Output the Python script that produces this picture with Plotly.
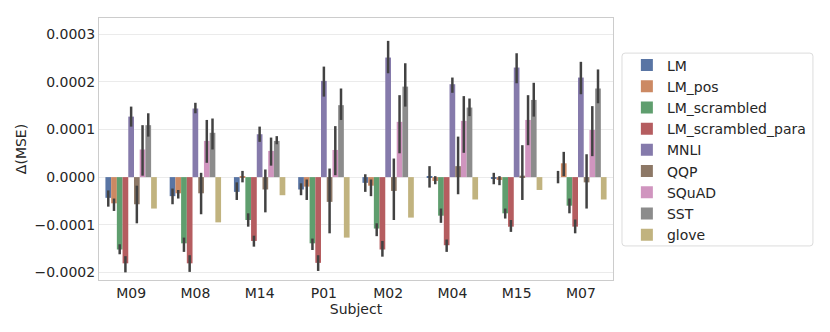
import plotly.graph_objects as go

subjects = ["M09", "M08", "M14", "P01", "M02", "M04", "M15", "M07"]
models = ["LM", "LM_pos", "LM_scrambled", "LM_scrambled_para", "MNLI",
          "QQP", "SQuAD", "SST", "glove"]
colors = ["#5975a4", "#cc8963", "#5f9e6e", "#b55d60", "#857aab",
          "#8d7866", "#d095bf", "#8c8c8c", "#c1b37f"]

# mean delta MSE (x 1e-4) per model, one value per subject
means = {
    "LM": [-0.435, -0.40, -0.31, -0.26, -0.12, 0.005, -0.02, 0.0],
    "LM_pos": [-0.55, -0.34, 0.01, -0.20, -0.18, -0.08, -0.06, 0.29],
    "LM_scrambled": [-1.52, -1.39, -0.90, -1.39, -1.08, -0.81, -0.76, -0.60],
    "LM_scrambled_para": [-1.81, -1.81, -1.34, -1.80, -1.52, -1.43, -1.04, -1.04],
    "MNLI": [1.27, 1.44, 0.90, 2.02, 2.51, 1.95, 2.30, 2.09],
    "QQP": [-0.57, -0.34, -0.26, -0.52, -0.29, 0.23, 0.03, -0.11],
    "SQuAD": [0.58, 0.76, 0.55, 0.57, 1.16, 1.18, 1.20, 0.99],
    "SST": [1.09, 0.93, 0.76, 1.51, 1.90, 1.46, 1.62, 1.86],
    "glove": [-0.66, -0.95, -0.38, -1.27, -0.85, -0.47, -0.27, -0.47],
}
# confidence interval bounds (x 1e-4)
ci_low = {
    "LM": [-0.62, -0.57, -0.48, -0.38, -0.31, -0.22, -0.15, -0.13],
    "LM_pos": [-0.71, -0.45, -0.11, -0.48, -0.40, -0.15, -0.17, 0.02],
    "LM_scrambled": [-1.62, -1.57, -1.04, -1.53, -1.24, -0.96, -0.87, -0.76],
    "LM_scrambled_para": [-2.0, -1.99, -1.46, -1.97, -1.67, -1.57, -1.15, -1.18],
    "MNLI": [1.06, 1.34, 0.74, 1.69, 2.18, 1.77, 1.97, 1.74],
    "QQP": [-0.97, -0.78, -0.74, -1.18, -0.90, -0.36, -0.48, -0.66],
    "SQuAD": [0.03, 0.30, 0.24, 0.04, 0.50, 0.51, 0.67, 0.44],
    "SST": [0.85, 0.58, 0.69, 1.20, 1.48, 1.28, 1.27, 1.55],
    "glove": [-0.66, -0.95, -0.38, -1.27, -0.85, -0.47, -0.27, -0.47],
}
ci_high = {
    "LM": [-0.28, -0.24, -0.11, -0.13, 0.06, 0.23, 0.09, 0.13],
    "LM_pos": [-0.45, -0.27, 0.13, -0.05, -0.05, 0.02, 0.02, 0.53],
    "LM_scrambled": [-1.41, -1.27, -0.76, -1.29, -0.97, -0.66, -0.66, -0.45],
    "LM_scrambled_para": [-1.66, -1.64, -1.23, -1.64, -1.34, -1.31, -0.90, -0.89],
    "MNLI": [1.48, 1.56, 1.06, 2.32, 2.86, 2.09, 2.60, 2.42],
    "QQP": [-0.18, 0.09, 0.16, 0.18, 0.39, 0.85, 0.67, 0.48],
    "SQuAD": [1.09, 1.20, 0.83, 1.07, 1.72, 1.70, 1.72, 1.49],
    "SST": [1.34, 1.23, 0.86, 1.86, 2.39, 1.65, 1.98, 2.26],
    "glove": [-0.66, -0.95, -0.38, -1.27, -0.85, -0.47, -0.27, -0.47],
}
scale = 1e-4

fig = go.Figure()
for name, col in zip(models, colors):
    m = [v * scale for v in means[name]]
    up = [(h - v) * scale for h, v in zip(ci_high[name], means[name])]
    dn = [(v - l) * scale for l, v in zip(ci_low[name], means[name])]
    fig.add_trace(go.Bar(
        x=subjects, y=m, name=name, marker_color=col, marker_line_width=0,
        error_y=dict(type="data", symmetric=False, array=up, arrayminus=dn,
                     color="#424242", thickness=2.5, width=0),
    ))

# rounded frame for the legend (plotly's own border has too much padding)
x0, x1, y0, y1, r = 1.0175, 1.389, 0.130, 0.866, 0.006
ry = r * 514 / 262
frame = (f"M {x0 + r},{y1} L {x1 - r},{y1} Q {x1},{y1} {x1},{y1 - ry} "
         f"L {x1},{y0 + ry} Q {x1},{y0} {x1 - r},{y0} L {x0 + r},{y0} "
         f"Q {x0},{y0} {x0},{y0 + ry} L {x0},{y1 - ry} Q {x0},{y1} {x0 + r},{y1} Z")

fig.update_layout(
    width=830, height=332,
    margin=dict(l=99, r=217, t=18, b=52),
    barmode="group", bargap=0.2, bargroupgap=0,
    plot_bgcolor="white", paper_bgcolor="white",
    font=dict(family="DejaVu Sans", size=14, color="#262626"),
    legend=dict(x=1.027, y=0.880, xanchor="left", yanchor="top",
                borderwidth=0, bgcolor="rgba(0,0,0,0)",
                font=dict(size=14), tracegroupgap=0),
    shapes=[dict(type="path", path=frame, xref="paper", yref="paper",
                 line=dict(color="#dcdcdc", width=1), layer="below")],
)
fig.update_xaxes(
    title=dict(text="Subject", standoff=1, font=dict(size=14)),
    showgrid=False, showline=True, linecolor="#cccccc", linewidth=1,
    mirror=True, ticks="",
)
fig.update_yaxes(
    title=dict(text="Δ(MSE)", standoff=4, font=dict(size=14)),
    range=[-0.000216, 0.000334], tickvals=[-0.0002, -0.0001, 0, 0.0001, 0.0002, 0.0003],
    tickformat=".4f", gridcolor="#ebebeb", gridwidth=1,
    zeroline=False, showline=True, linecolor="#cccccc", linewidth=1,
    mirror=True, ticks="",
)

# drop the browser's default body margin so the figure sits at the page origin
fig.write_html("out.html", config={"displayModeBar": False},
               post_script="document.body.style.margin='0';")
